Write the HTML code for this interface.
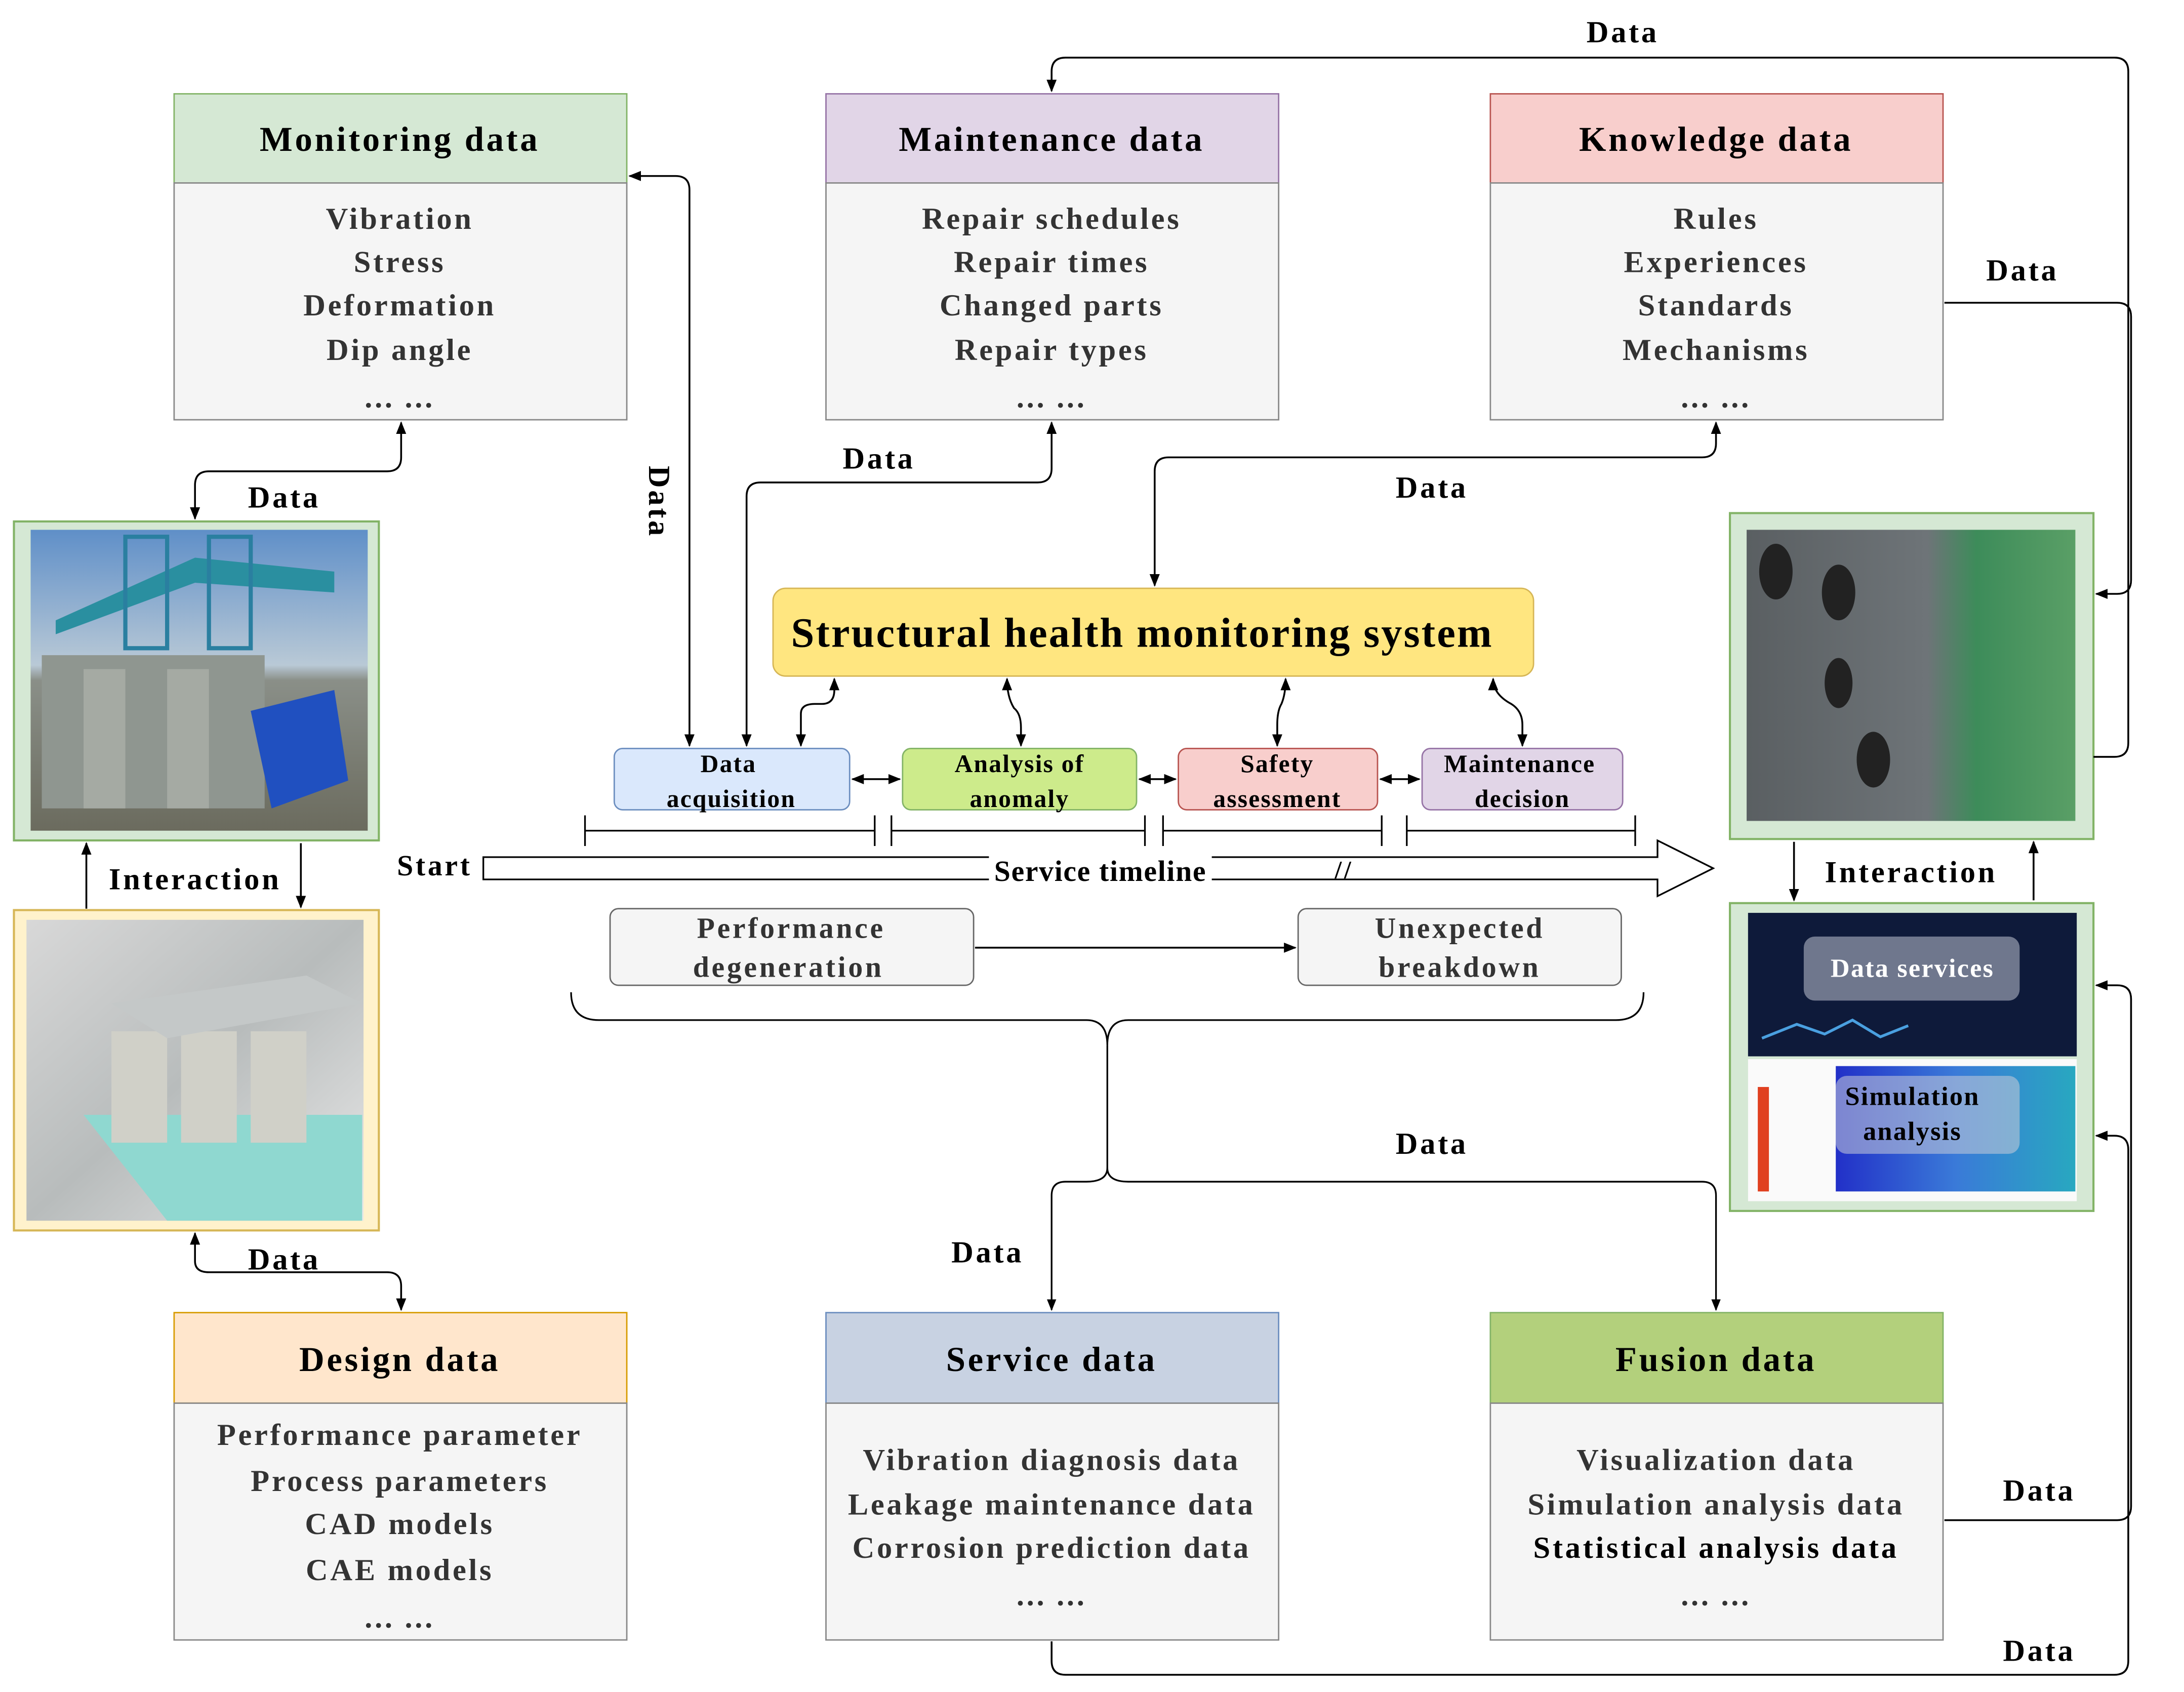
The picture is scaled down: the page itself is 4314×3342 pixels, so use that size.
<!DOCTYPE html>
<html><head><meta charset="utf-8"><style>
html,body{margin:0;padding:0;background:#fff;}
svg{display:block;}
text{font-family:"Liberation Serif",serif;font-weight:bold;letter-spacing:1.7px;}
</style></head><body>
<svg width="4314" height="3342" viewBox="0 0 1568 1214" xmlns="http://www.w3.org/2000/svg">
<defs>
<marker id="a" viewBox="0 0 10 10" refX="9" refY="5" markerWidth="7" markerHeight="7" orient="auto-start-reverse"><path d="M0,1 L10,5 L0,9 z" fill="#000"/></marker>
<linearGradient id="sky" x1="0" y1="0" x2="0" y2="1"><stop offset="0" stop-color="#5f8fc8"/><stop offset="0.45" stop-color="#b9c9d6"/><stop offset="0.5" stop-color="#8a8f88"/><stop offset="1" stop-color="#6b6b5e"/></linearGradient>
<linearGradient id="cad" x1="0" y1="0" x2="1" y2="1"><stop offset="0" stop-color="#d8d8d8"/><stop offset="0.5" stop-color="#b8bcbc"/><stop offset="1" stop-color="#e8e8e8"/></linearGradient>
<linearGradient id="ph2" x1="0" y1="0" x2="1" y2="0"><stop offset="0" stop-color="#5a5f62"/><stop offset="0.55" stop-color="#6e7478"/><stop offset="0.7" stop-color="#3d8c5a"/><stop offset="1" stop-color="#5a9f66"/></linearGradient>
<linearGradient id="sim" x1="0" y1="0" x2="1" y2="0"><stop offset="0" stop-color="#2230c8"/><stop offset="0.5" stop-color="#3a7ad8"/><stop offset="1" stop-color="#28a8c0"/></linearGradient>
</defs>
<g font-size="22" text-anchor="middle">
<rect x="125" y="67" width="325" height="64" fill="#d5e8d4" stroke="#82b366"/>
<rect x="125" y="131" width="325" height="170" fill="#f5f5f5" stroke="#888"/>
<text x="287" y="108" font-size="25">Monitoring data</text>
<text x="287" y="164" fill="#333">Vibration</text><text x="287" y="195" fill="#333">Stress</text><text x="287" y="226" fill="#333">Deformation</text><text x="287" y="258" fill="#333">Dip angle</text><text x="287" y="292" fill="#333">... ...</text>

<rect x="593" y="67" width="325" height="64" fill="#e1d5e7" stroke="#9673a6"/>
<rect x="593" y="131" width="325" height="170" fill="#f5f5f5" stroke="#888"/>
<text x="755" y="108" font-size="25">Maintenance data</text>
<text x="755" y="164" fill="#333">Repair schedules</text><text x="755" y="195" fill="#333">Repair times</text><text x="755" y="226" fill="#333">Changed parts</text><text x="755" y="258" fill="#333">Repair types</text><text x="755" y="292" fill="#333">... ...</text>

<rect x="1070" y="67" width="325" height="64" fill="#f8cecc" stroke="#b85450"/>
<rect x="1070" y="131" width="325" height="170" fill="#f5f5f5" stroke="#888"/>
<text x="1232" y="108" font-size="25">Knowledge data</text>
<text x="1232" y="164" fill="#333">Rules</text><text x="1232" y="195" fill="#333">Experiences</text><text x="1232" y="226" fill="#333">Standards</text><text x="1232" y="258" fill="#333">Mechanisms</text><text x="1232" y="292" fill="#333">... ...</text>

<rect x="125" y="942" width="325" height="65" fill="#ffe6cc" stroke="#d79b00"/>
<rect x="125" y="1007" width="325" height="170" fill="#f5f5f5" stroke="#888"/>
<text x="287" y="984" font-size="25">Design data</text>
<text x="287" y="1037" fill="#333">Performance parameter</text><text x="287" y="1070" fill="#333">Process parameters</text><text x="287" y="1101" fill="#333">CAD models</text><text x="287" y="1134" fill="#333">CAE models</text><text x="287" y="1168" fill="#333">... ...</text>

<rect x="593" y="942" width="325" height="65" fill="#c8d2e2" stroke="#6c8ebf"/>
<rect x="593" y="1007" width="325" height="170" fill="#f5f5f5" stroke="#888"/>
<text x="755" y="984" font-size="25">Service data</text>
<text x="755" y="1055" fill="#333">Vibration diagnosis data</text><text x="755" y="1087" fill="#333">Leakage maintenance data</text><text x="755" y="1118" fill="#333">Corrosion prediction data</text><text x="755" y="1152" fill="#333">... ...</text>

<rect x="1070" y="942" width="325" height="65" fill="#b3d07c" stroke="#82b366"/>
<rect x="1070" y="1007" width="325" height="170" fill="#f5f5f5" stroke="#888"/>
<text x="1232" y="984" font-size="25">Fusion data</text>
<text x="1232" y="1055" fill="#333">Visualization data</text><text x="1232" y="1087" fill="#333">Simulation analysis data</text><text x="1232" y="1118" fill="#000">Statistical analysis data</text><text x="1232" y="1152" fill="#333">... ...</text>

<rect x="10" y="374" width="262" height="229" fill="#d5e8d4" stroke="#82b366" stroke-width="1.5"/>
<rect x="22" y="380" width="242" height="216" fill="url(#sky)"/>
<polygon points="40,445 140,400 240,410 240,425 140,418 40,455" fill="#2a8fa0"/>
<rect x="90" y="385" width="30" height="80" fill="none" stroke="#2a7fa0" stroke-width="3"/>
<rect x="150" y="385" width="30" height="80" fill="none" stroke="#2a7fa0" stroke-width="3"/>
<rect x="30" y="470" width="160" height="110" fill="#8f9690"/>
<rect x="60" y="480" width="30" height="100" fill="#a5aaa3"/><rect x="120" y="480" width="30" height="100" fill="#a5aaa3"/>
<polygon points="180,510 240,495 250,560 195,580" fill="#2050c0"/>
<rect x="10" y="653" width="262" height="230" fill="#fff2cc" stroke="#d6b656" stroke-width="1.5"/>
<rect x="19" y="660" width="242" height="216" fill="url(#cad)"/>
<polygon points="60,800 260,800 260,876 120,876" fill="#8fd8d0"/>
<rect x="80" y="740" width="40" height="80" fill="#d0d0c8"/><rect x="130" y="740" width="40" height="80" fill="#d0d0c8"/><rect x="180" y="740" width="40" height="80" fill="#d0d0c8"/>
<polygon points="80,720 220,700 260,720 120,745" fill="#c4c8c8"/>

<rect x="1242" y="368" width="261" height="234" fill="#d5e8d4" stroke="#82b366" stroke-width="1.5"/>
<rect x="1254" y="380" width="236" height="209" fill="url(#ph2)"/>
<ellipse cx="1275" cy="410" rx="12" ry="20" fill="#222"/><ellipse cx="1320" cy="425" rx="12" ry="20" fill="#222"/><ellipse cx="1345" cy="545" rx="12" ry="20" fill="#222"/><ellipse cx="1320" cy="490" rx="10" ry="18" fill="#222"/>
<rect x="1242" y="648" width="261" height="221" fill="#d5e8d4" stroke="#82b366" stroke-width="1.5"/>
<rect x="1255" y="655" width="236" height="103" fill="#0e1a3a"/>
<polyline points="1265,745 1290,735 1310,742 1330,732 1350,744 1370,736" fill="none" stroke="#4aa0e0" stroke-width="2"/>
<rect x="1255" y="760" width="236" height="102" fill="#fafafa"/>
<rect x="1262" y="780" width="8" height="75" fill="#e04020"/>
<rect x="1318" y="765" width="172" height="90" fill="url(#sim)"/>
<rect x="1295" y="672" width="155" height="46" rx="8" fill="#b0b6c4" opacity="0.6"/>
<rect x="1318" y="772" width="132" height="56" rx="8" fill="#c8ccd8" opacity="0.55"/>
<text x="1373" y="701" font-size="19" fill="#fff" style="letter-spacing:0.8px">Data services</text>
<text x="1373" y="793" font-size="19" style="letter-spacing:0.8px">Simulation</text><text x="1373" y="818" font-size="19" style="letter-spacing:0.8px">analysis</text>

<rect x="555" y="422" width="546" height="63" rx="9" fill="#ffe680" stroke="#d6b656"/>
<text x="820" y="464" font-size="30" style="letter-spacing:1.1px">Structural health monitoring system</text>

<g font-size="18" style="letter-spacing:0.8px">
<rect x="441" y="537" width="169" height="44" rx="6" fill="#dae8fc" stroke="#6c8ebf"/><text x="523" y="554" style="letter-spacing:0.8px">Data</text><text x="525" y="579" style="letter-spacing:0.8px">acquisition</text>
<rect x="648" y="537" width="168" height="44" rx="6" fill="#cdeb8b" stroke="#82b366"/><text x="732" y="554" style="letter-spacing:0.8px">Analysis of</text><text x="732" y="579" style="letter-spacing:0.8px">anomaly</text>
<rect x="846" y="537" width="143" height="44" rx="6" fill="#f8cecc" stroke="#b85450"/><text x="917" y="554" style="letter-spacing:0.8px">Safety</text><text x="917" y="579" style="letter-spacing:0.8px">assessment</text>
<rect x="1021" y="537" width="144" height="44" rx="6" fill="#e1d5e7" stroke="#9673a6"/><text x="1091" y="554" style="letter-spacing:0.8px">Maintenance</text><text x="1093" y="579" style="letter-spacing:0.8px">decision</text>
</g>

<path d="M347,615 L1190,615 L1190,603 L1230,623 L1190,643 L1190,631 L347,631 Z" fill="#fff" stroke="#000" stroke-width="1.2"/>
<rect x="710" y="613" width="160" height="20" fill="#fff"/>
<text x="790" y="632" font-size="21" style="letter-spacing:0.6px">Service timeline</text>
<text x="312" y="628" font-size="21">Start</text>
<text x="965" y="630" font-size="18">//</text>
<g stroke="#000" stroke-width="1.2" fill="none">
<path d="M420,585 V607 M420,596 H628 M628,585 V607 M640,585 V607 M640,596 H822 M822,585 V607 M835,585 V607 M835,596 H992 M992,585 V607 M1010,585 V607 M1010,596 H1174 M1174,585 V607"/>
<path d="M410,712 Q410,732 430,732 L780,732 Q795,732 795,750 Q795,732 810,732 L1160,732 Q1180,732 1180,712"/>
<path d="M795,750 V838 Q795,848 810,848 L1222,848 Q1232,848 1232,858 V940" marker-end="url(#a)"/>
<path d="M795,838 Q795,848 780,848 L765,848 Q755,848 755,858 V940" marker-end="url(#a)"/>
</g>
<rect x="438" y="652" width="261" height="55" rx="6" fill="#f5f5f5" stroke="#666"/>
<text x="568" y="673" font-size="21" fill="#333">Performance</text><text x="566" y="701" font-size="21" fill="#333">degeneration</text>
<rect x="932" y="652" width="232" height="55" rx="6" fill="#f5f5f5" stroke="#666"/>
<text x="1048" y="673" font-size="21" fill="#333">Unexpected</text><text x="1048" y="701" font-size="21" fill="#333">breakdown</text>

<g stroke="#000" stroke-width="1.3" fill="none">
<path d="M700,680 H930" marker-end="url(#a)"/>
<path d="M140,372 V348 Q140,338 150,338 L278,338 Q288,338 288,328 V303" marker-start="url(#a)" marker-end="url(#a)"/>
<path d="M140,885 V905 Q140,913 150,913 L278,913 Q288,913 288,923 V940" marker-start="url(#a)" marker-end="url(#a)"/>
<path d="M62,652 V605" marker-end="url(#a)"/>
<path d="M216,605 V651" marker-end="url(#a)"/>
<path d="M452,126 L485,126 Q495,126 495,136 V535" marker-start="url(#a)" marker-end="url(#a)"/>
<path d="M536,535 V356 Q536,346 546,346 L745,346 Q755,346 755,336 V303" marker-start="url(#a)" marker-end="url(#a)"/>
<path d="M829,420 V338 Q829,328 839,328 L1222,328 Q1232,328 1232,318 V303" marker-start="url(#a)" marker-end="url(#a)"/>
<path d="M1503,543 L1518,543 Q1528,543 1528,533 V51 Q1528,41 1518,41 L765,41 Q755,41 755,51 V65" marker-end="url(#a)"/>
<path d="M1396,217 L1520,217 Q1530,217 1530,227 V416 Q1530,426 1520,426 L1505,426" marker-end="url(#a)"/>
<path d="M1288,604 V646" marker-end="url(#a)"/>
<path d="M1460,646 V604" marker-end="url(#a)"/>
<path d="M1396,1091 L1520,1091 Q1530,1091 1530,1081 V717 Q1530,707 1520,707 L1505,707" marker-end="url(#a)"/>
<path d="M755,1178 V1192 Q755,1202 765,1202 L1518,1202 Q1528,1202 1528,1192 V825 Q1528,815 1518,815 L1505,815" marker-end="url(#a)"/>
<path d="M575,535 V512 Q575,505 585,505 L590,505 Q599,505 599,495 V487" marker-start="url(#a)" marker-end="url(#a)"/>
<path d="M733,535 V522 Q733,512 728,508 Q723,500 723,487" marker-start="url(#a)" marker-end="url(#a)"/>
<path d="M917,535 V520 Q917,510 920,505 Q923,498 923,487" marker-start="url(#a)" marker-end="url(#a)"/>
<path d="M1093,535 V520 Q1093,510 1085,505 Q1072,498 1072,487" marker-start="url(#a)" marker-end="url(#a)"/>
<path d="M612,559 H646" marker-start="url(#a)" marker-end="url(#a)"/>
<path d="M818,559 H844" marker-start="url(#a)" marker-end="url(#a)"/>
<path d="M991,559 H1019" marker-start="url(#a)" marker-end="url(#a)"/>
</g>

<g font-size="22">
<text x="204" y="364">Data</text>
<text x="204" y="911">Data</text>
<text x="140" y="638">Interaction</text>
<text x="1372" y="633">Interaction</text>
<text x="631" y="336">Data</text>
<text x="1028" y="357">Data</text>
<text x="1165" y="30">Data</text>
<text x="1452" y="201">Data</text>
<text x="1028" y="828">Data</text>
<text x="709" y="906">Data</text>
<text x="1464" y="1077">Data</text>
<text x="1464" y="1192">Data</text>
<text x="0" y="0" transform="translate(466,360) rotate(90)">Data</text>
</g>
</g>
</svg>
</body></html>
